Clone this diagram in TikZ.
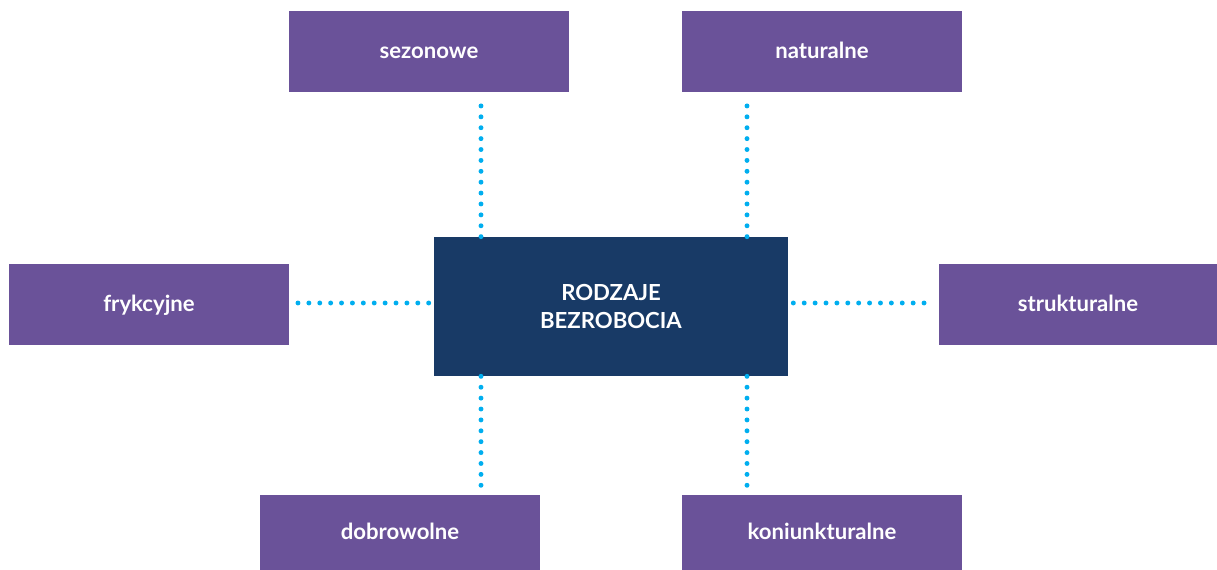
\documentclass[tikz,border=0pt]{standalone}
\usepackage{fontspec}
\setmainfont{Lato}
\usetikzlibrary{positioning}

\definecolor{fiolet}{RGB}{106,82,153}
\definecolor{granat}{RGB}{24,58,102}
\definecolor{blekit}{RGB}{0,174,239}

\tikzset{
	rodzaj/.style={fill=fiolet, text=white, font=\bfseries\fontsize{12.6}{14}\selectfont,
		text height=8pt, text depth=0pt,
		minimum width=5.6cm, minimum height=1.62cm, inner sep=0pt},
	glowny/.style={fill=granat, text=white, font=\fontsize{12.6}{15.9}\selectfont,
		minimum width=7.08cm, minimum height=2.78cm, inner sep=0pt, align=center},
	kropki/.style={blekit, line width=2.8pt, line cap=round, dash pattern=on 0pt off 6.2pt}
}

\begin{document}
\begin{tikzpicture}[x=0.02cm, y=-0.02cm]
		\useasboundingbox (0,0) rectangle (1217,570);
		
		\node[glowny] (rodzaje) at (611,306.5) {\textbf{RODZAJE}\\\textbf{BEZROBOCIA}};
		
		\node[rodzaj] (sezonowe) at (429,51.5) {sezonowe};
		\node[rodzaj] (naturalne) at (822,51.5) {naturalne};
		\node[rodzaj] (frykcyjne) at (149,304.5) {frykcyjne};
		\node[rodzaj, minimum width=5.56cm] (strukturalne) at (1078,304.5) {strukturalne};
		\node[rodzaj, minimum height=1.5cm] (dobrowolne) at (400,532.5) {dobrowolne};
		\node[rodzaj, minimum height=1.5cm] (koniunkturalne) at (822,532.5) {koniunkturalne};
		
		\coordinate (lewa) at (481,303);
		\coordinate (prawa) at (747,303);
		
		\draw[kropki, shorten >=0.16cm] (rodzaje.north -| lewa) -- (sezonowe.south -| lewa);
		\draw[kropki, shorten >=0.16cm] (rodzaje.north -| prawa) -- (naturalne.south -| prawa);
		\draw[kropki, shorten >=0.16cm] (rodzaje.south -| lewa) -- (dobrowolne.north -| lewa);
		\draw[kropki, shorten >=0.16cm] (rodzaje.south -| prawa) -- (koniunkturalne.north -| prawa);
		\draw[kropki, shorten <=0.1cm, shorten >=0.16cm] (rodzaje.west |- lewa) -- (frykcyjne.east |- lewa);
		\draw[kropki, shorten <=0.1cm, shorten >=0.16cm] (rodzaje.east |- lewa) -- (strukturalne.west |- lewa);
	\end{tikzpicture}
\end{document}
